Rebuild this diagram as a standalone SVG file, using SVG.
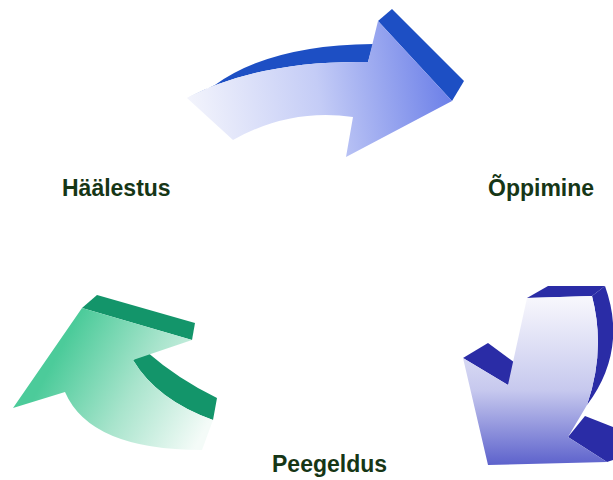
<svg xmlns="http://www.w3.org/2000/svg" width="613" height="480" viewBox="0 0 613 480">
<style>
.lbl{font-family:"Liberation Sans",Arial,sans-serif;font-weight:bold;font-size:23px;fill:#163616}
.blueDark{fill:#1d4fc4}
.navy{fill:#2a2ca6}
.green{fill:#13956a}
</style>
<defs>
<linearGradient id="gTop" x1="187" y1="120" x2="452" y2="80" gradientUnits="userSpaceOnUse">
<stop offset="0" stop-color="#f4f5fc"/>
<stop offset="0.5" stop-color="#c4ccf6"/>
<stop offset="1" stop-color="#6a7ee8"/>
</linearGradient>
<linearGradient id="gRight" x1="0" y1="300" x2="0" y2="465" gradientUnits="userSpaceOnUse">
<stop offset="0" stop-color="#f6f6fc"/>
<stop offset="0.55" stop-color="#c6c8ee"/>
<stop offset="1" stop-color="#5d62cc"/>
</linearGradient>
<linearGradient id="gLeft" x1="60" y1="350" x2="205" y2="430" gradientUnits="userSpaceOnUse">
<stop offset="0" stop-color="#4ccb9a"/>
<stop offset="0.5" stop-color="#a8e4cc"/>
<stop offset="1" stop-color="#f4fbf8"/>
</linearGradient>
</defs>

<g id="arrow-top">
<path class="blueDark" d="M215,85 Q270,45 373,44 L368,62 Q260,60 187,98 Z"/>
<path class="blueDark" d="M378,21 L392,9 L464,81 L452,101 Z"/>
<path fill="url(#gTop)" d="M187,98 Q260,60 368,62 L378,21 L452,101 L346,157 L353,117 Q290,108 233,140 Z"/>
</g>

<g id="arrow-right">
<path class="navy" d="M527,298 L548,286 L605,286 L592,296 Z"/>
<path class="navy" d="M592,296 L605,286 Q628,350 587,405 Q606,350 592,296 Z"/>
<path class="navy" d="M463,358 L488,343 L522,368 L508,385 Z"/>
<path class="navy" d="M568,437 L585,416 L613,427 L613,460 L607,462 Z"/>
<path fill="url(#gRight)" d="M527,298 L592,296 Q606,350 587,405 L568,437 L607,462 L488,465 L463,358 L508,385 Q520,330 527,298 Z"/>
</g>

<g id="arrow-left">
<path class="green" d="M82,308 L97,295 L195,323 L192,340 Z"/>
<path class="green" d="M133,360 L147,352 Q178,379 217,398 L213,420 Q157,400 133,360 Z"/>
<path fill="url(#gLeft)" d="M82,308 L192,340 L133,360 Q157,400 213,420 L202,450 Q90,450 65,392 L13,408 Z"/>
</g>

<g id="labels">
<text class="lbl" x="62" y="196">Häälestus</text>
<text class="lbl" x="488" y="196">Õppimine</text>
<text class="lbl" x="272" y="472">Peegeldus</text>
</g>
<g id="connectors"/>
</svg>
